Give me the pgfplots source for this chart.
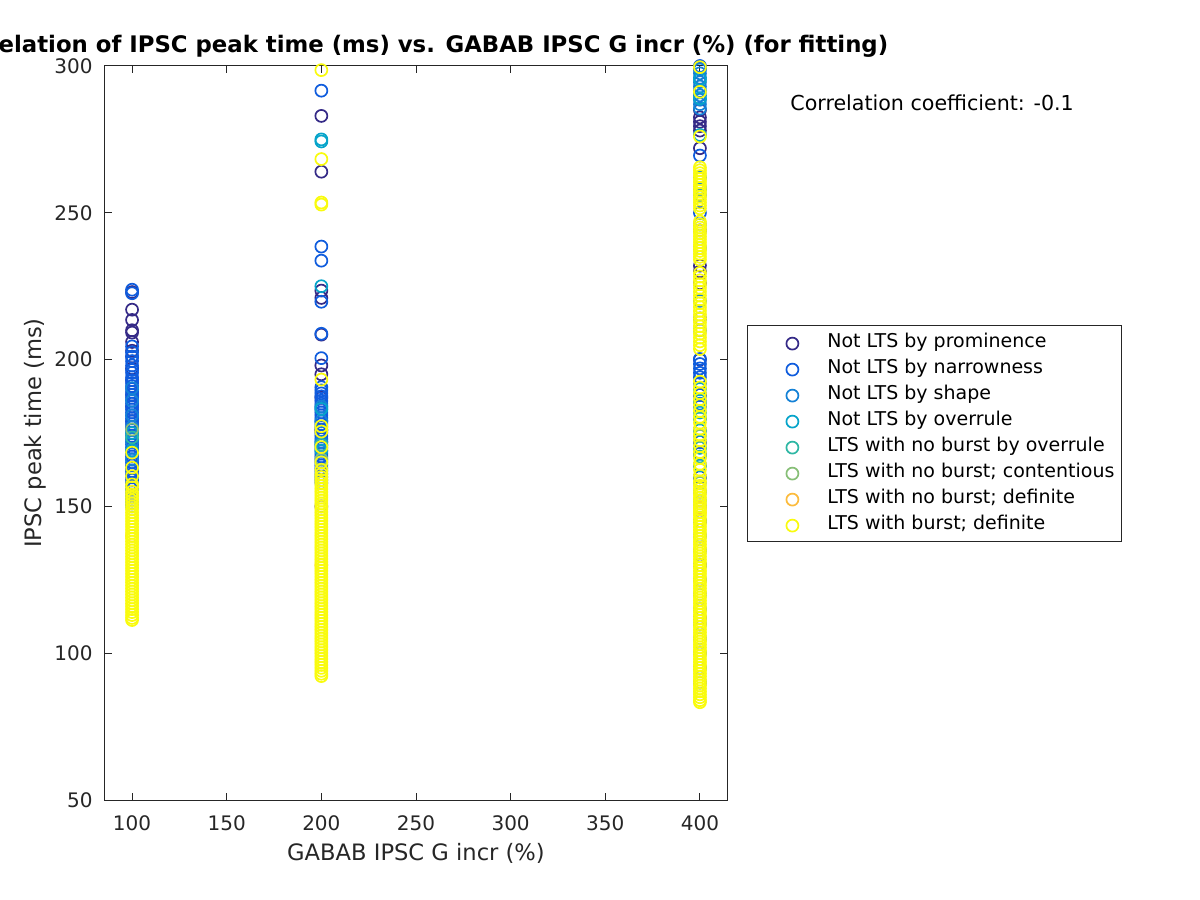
\documentclass[border=0pt]{standalone}
\usepackage{fontspec}
\setmainfont{DejaVu Sans}
\usepackage{pgfplots}
\pgfplotsset{compat=1.18}
\usetikzlibrary{calc}

\definecolor{axgray}{RGB}{38,38,38}
\definecolor{cprom}{RGB}{53,42,135}
\definecolor{cnarr}{RGB}{15,92,221}
\definecolor{cshape}{RGB}{20,129,214}
\definecolor{cover}{RGB}{6,164,202}
\definecolor{cnbover}{RGB}{46,183,164}
\definecolor{ccont}{RGB}{135,191,119}
\definecolor{cnbdef}{RGB}{252,187,61}
\definecolor{cburst}{RGB}{249,251,14}

\begin{document}
\begin{tikzpicture}
\begin{axis}[
    name=ax,
    scale only axis,
    width=311pt, height=367pt,
    xmin=85.7, xmax=414.3,
    ymin=50, ymax=300,
    xtick={100,150,...,400},
    ytick={50,100,...,300},
    tick align=inside,
    major tick length=3.5pt,
    axis line style={color=axgray, line width=0.5pt},
    tick style={color=axgray, line width=0.5pt},
    /pgf/number format/assume math mode=true,
    ticklabel style={font=\fontsize{10}{12}\selectfont, color=axgray},
    xticklabel style={anchor=base, yshift=-15pt},
    yticklabel style={xshift=-2.7pt},
    xlabel={GABAB IPSC G incr (\%)},
    ylabel={IPSC peak time (ms)},
    xlabel style={font=\fontsize{11.3}{13}\selectfont, color=axgray,
        at={(axis description cs:0.5,0)}, anchor=base, yshift=-30pt},
    ylabel style={font=\fontsize{11.3}{13}\selectfont, color=axgray,
        at={(axis description cs:-0.1125,0.5)}, anchor=center},
    title={Correlation of IPSC peak time (ms) vs. GABAB IPSC G incr (\%) (for fitting)},
    title style={font=\bfseries\fontsize{11.4}{13}\selectfont,
        at={(axis description cs:0.5,1)}, anchor=base, yshift=1pt},
    clip=false,
    every axis plot/.append style={only marks, mark=o, mark size=3pt, line width=0.85pt},
    legend image code/.code={\path[draw=none] (0pt,0pt) -- (36.5pt,0pt);
        \draw[#1] plot coordinates {(22.5pt,-0.5pt)};},
    legend cell align=left,
    legend style={at={(axis description cs:1.032,0.647)}, anchor=north west,
        draw=axgray, line width=0.5pt,
        font=\fontsize{9.5}{11}\selectfont,
        inner xsep=0pt, inner ysep=2pt, row sep=0pt,
        nodes={inner xsep=3.5pt, inner ysep=0pt, text height=9pt, text depth=4pt}},
]
% Not LTS by prominence
\addplot[color=cprom] coordinates {
(100,223.0)(100,217)(100,213.5)(100,210)(100,209.2)(100,206)(100,203)(100,201)(100,197)(100,193)(100,188)(100,184)(100,179)
(200,283)(200,264)(200,223.5)(200,221)(200,208.5)(200,198)(200,195)(200,187)(200,176)(200,150)
(400,285)(400,282.5)(400,281)(400,279.5)(400,278)(400,272)(400,244)(400,232)(400,230)(400,226)(400,214)(400,200)(400,188)(400,172)(400,160)(400,145)(400,130)(400,112)
};
% Not LTS by narrowness
\addplot[color=cnarr] coordinates {
(100,223.8)(100,222.6)(100,204.5)(100,202.5)(100,201)(100,199.5)(100,198)(100,196.5)(100,195.5)(100,194)
(100,193)(100,192)(100,191)(100,190)(100,189)(100,188)(100,187)(100,186)(100,185)(100,184)(100,183)(100,182)
(100,181)(100,180)(100,179)(100,178)(100,177)(100,176)(100,175)(100,174)(100,173)(100,172)(100,171)(100,170)
(100,169)(100,168)(100,167)(100,166)(100,165)(100,164)(100,163)(100,162)(100,161)(100,160)(100,159)(100,158)
(100,157)(100,156)(100,155)(100,154)(100,153)(100,152)(100,151)(100,150)
(200,291.6)(200,238.5)(200,233.7)(200,219.7)(200,208.8)(200,200.5)(200,190.6)(200,189.5)(200,188.5)(200,187.5)
(200,186)(200,185)(200,184)(200,183)(200,182)(200,181)(200,180)(200,179)(200,178)(200,177)(200,176)(200,175)
(200,174)(200,173)(200,172)(200,171)(200,170)(200,169)(200,168)(200,167)(200,166)(200,165)(200,164)(200,163)
(200,162)(200,161)(200,160)(200,159)(200,158)
(400,300)(400,299.3)(400,269.5)(400,250)(400,200.2)(400,198.5)(400,197)(400,195.5)(400,194)(400,192)(400,188)
(400,184)(400,180)(400,176)(400,172)(400,168)(400,164)(400,160)(400,155)(400,150)(400,145)(400,140)(400,135)
(400,130)(400,125)(400,120)(400,115)(400,110)(400,105)(400,100)(400,95)(400,90)
};
% Not LTS by shape
\addplot[color=cshape] coordinates {
(100,190.3)(100,186)(100,181)(100,177)(100,172)(100,166)
(200,184)(200,179)(200,172)
(400,298.8)(400,297.5)(400,296)(400,294.5)(400,293)(400,291.5)(400,290)(400,288.5)(400,287)(400,285.5)
(400,262)(400,258)(400,256)(400,246)(400,238)(400,220)(400,210)(400,185)(400,170)
};
% Not LTS by overrule
\addplot[color=cover] coordinates {
(100,175)(100,169)
(200,275)(200,274.3)(200,225)(200,183.2)(200,169)
(400,295.5)(400,289)(400,276.5)(400,258.5)(400,190)(400,186)(400,182)(400,176)(400,170)(400,164)
};
% LTS with no burst by overrule
\addplot[color=cnbover] coordinates {
(100,173.5)(200,171)(400,180)(400,167)(400,152)
};
% LTS with no burst; contentious
\addplot[color=ccont] coordinates {
(100,176.2)(200,166)(400,174)(400,158)
};
% LTS with no burst; definite
\addplot[color=cnbdef] coordinates {
(100,140)(200,130)(400,149.5)(400,148)
};
% LTS with burst; definite
\addplot[color=cburst] coordinates {
(100,168.3)(100,163.2)(100,160.3)(100,157.5)(100,156.5)
(100,155)(100,154)(100,153)(100,152)(100,151)(100,150)(100,149)(100,148)(100,147)(100,146)(100,145)(100,144)
(100,143)(100,142)(100,141)(100,140)(100,139)(100,138)(100,137)(100,136)(100,135)(100,134)(100,133)(100,132)
(100,131)(100,130)(100,129)(100,128)(100,127)(100,126)(100,125)(100,124)(100,123)(100,122)(100,121)(100,120)
(100,119)(100,118)(100,117)(100,116)(100,115)(100,114)(100,113)(100,112)(100,111.3)
(200,298.6)(200,268.3)(200,253.5)(200,252.8)(200,193.2)(200,177.3)(200,175.5)(200,170.2)(200,165)(200,162.5)(200,161)
(200,160)(200,159)(200,158)(200,157)(200,156)(200,155)(200,154)(200,153)(200,152)(200,151)(200,150)(200,149)
(200,148)(200,147)(200,146)(200,145)(200,144)(200,143)(200,142)(200,141)(200,140)(200,139)(200,138)(200,137)
(200,136)(200,135)(200,134)(200,133)(200,132)(200,131)(200,130)(200,129)(200,128)(200,127)(200,126)(200,125)
(200,124)(200,123)(200,122)(200,121)(200,120)(200,119)(200,118)(200,117)(200,116)(200,115)(200,114)(200,113)
(200,112)(200,111)(200,110)(200,109)(200,108)(200,107)(200,106)(200,105)(200,104)(200,103)(200,102)(200,101)
(200,100)(200,99)(200,98)(200,97)(200,96)(200,95)(200,94)(200,93)(200,92.2)
(400,299.6)(400,291.2)(400,276)(400,265.5)(400,264.5)(400,263.5)(400,262.5)(400,261.5)(400,260.5)(400,259.5)
(400,258.5)(400,257.5)(400,256.5)(400,255.5)(400,254.5)(400,253.5)(400,252.5)(400,251.5)
(400,247)(400,246)(400,245)(400,244)(400,243)(400,242)(400,241)(400,240)(400,239)(400,238)(400,237)(400,236)
(400,235)(400,234)
(400,229.5)(400,228.3)(400,227)(400,225.7)(400,224.4)(400,223.1)(400,221.8)(400,220.5)(400,219.2)(400,217.9)
(400,216.6)(400,215.3)(400,214)(400,212.7)(400,211.4)(400,210.1)(400,208.8)(400,207.5)(400,206.2)(400,204.9)
(400,203.6)(400,192.5)(400,190.5)(400,188.5)(400,186.5)(400,184.5)(400,182.5)(400,180.5)(400,178.5)(400,176.5)
(400,174.5)(400,172.5)(400,170.5)(400,168.5)(400,166.5)(400,164.5)(400,162.5)(400,160.5)(400,158.5)(400,157)
(400,156)(400,155)(400,154)(400,153)(400,152)(400,151)(400,150)(400,149)(400,148)(400,147)(400,146)(400,145)
(400,144)(400,143)(400,142)(400,141)(400,140)(400,139)(400,138)(400,137)(400,136)(400,135)(400,134)(400,133)
(400,132)(400,131)(400,130)(400,129)(400,128)(400,127)(400,126)(400,125)(400,124)(400,123)(400,122)(400,121)
(400,120)(400,119)(400,118)(400,117)(400,116)(400,115)(400,114)(400,113)(400,112)(400,111)(400,110)(400,109)
(400,108)(400,107)(400,106)(400,105)(400,104)(400,103)(400,102)(400,101)(400,100)(400,99)(400,98)(400,97)
(400,96)(400,95)(400,94)(400,93)(400,92)(400,91)(400,90)(400,89)(400,88)(400,87)(400,86)(400,85)(400,84)(400,83.3)
};
\legend{Not LTS by prominence, Not LTS by narrowness, Not LTS by shape, Not LTS by overrule,
    LTS with no burst by overrule, LTS with no burst; contentious, LTS with no burst; definite,
    LTS with burst; definite}
\node[anchor=west, inner sep=0pt, font=\fontsize{10.3}{12}\selectfont, text=black]
    at (axis cs:447.6,287.4) {Correlation coefficient: -0.1};
\end{axis}
\pgfresetboundingbox
\path[use as bounding box] ($(ax.south west)+(-52.5pt,-50pt)$) rectangle ++(600pt,450pt);
\end{tikzpicture}
\end{document}
